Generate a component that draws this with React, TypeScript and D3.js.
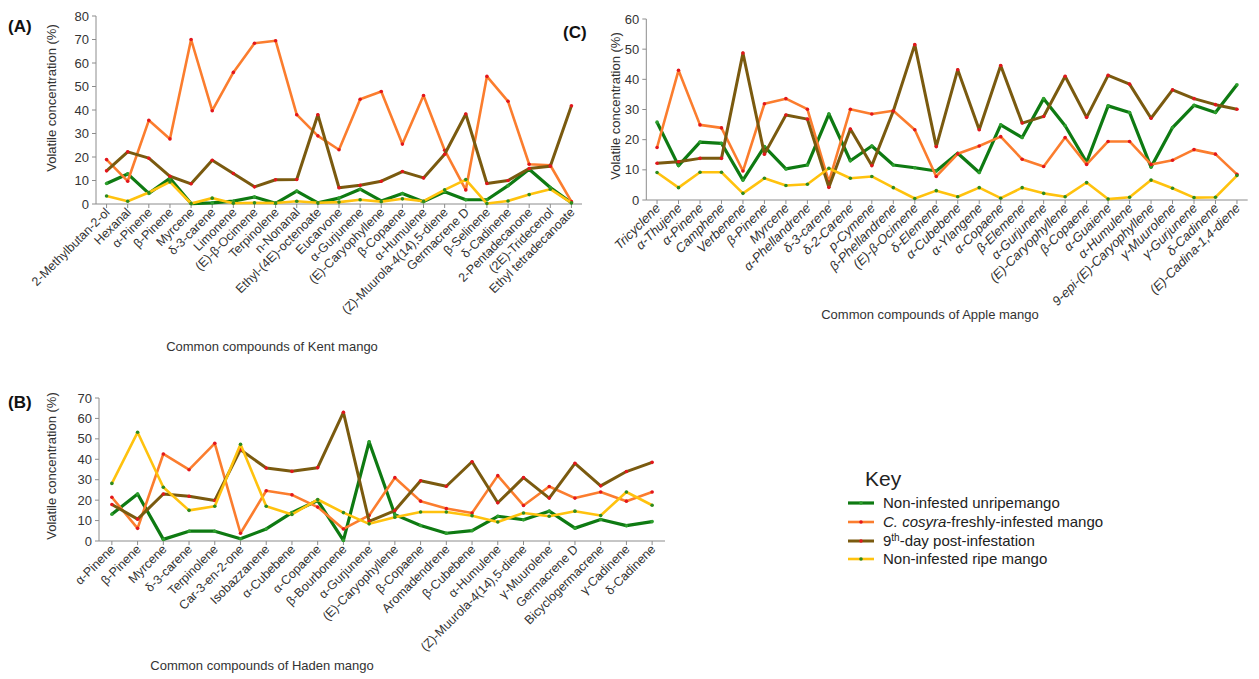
import React from 'react';
import * as d3 from 'd3';

// ---------- Data ----------
const kentCategories = ["2-Methylbutan-2-ol","Hexanal","α-Pinene","β-Pinene","Myrcene","δ-3-carene","Limonene","(E)-β-Ocimene","Terpinolene","n-Nonanal","Ethyl-(4E)-octenoate","Eucarvone","α-Gurjunene","(E)-Caryophyllene","β-Copaene","α-Humulene","(Z)-Muurola-4(14),5-diene","Germacrene D","β-Selinene","δ-Cadinene","2-Pentadecanone","(2E)-Tridecenol","Ethyl tetradecanoate"];
const kentUnripe = [8.7,12.8,4.5,10.9,0.2,0.5,1.2,3,0.3,5.5,0.5,2.5,6.3,1.3,4.5,1,5.2,1.8,1.8,7.8,14.8,7,0.5];
const kentFresh = [18.9,9.7,35.6,27.7,70,39.7,56,68.4,69.5,38,29,23.1,44.6,47.9,25.5,46.2,22.9,6,54.3,43.7,16.9,16.5,1];
const kentDay9 = [14.1,22.2,19.5,11.8,8.6,18.6,13,7.3,10.3,10.4,38,6.9,8,9.7,13.8,11.1,21.2,38.3,8.7,10,15.1,16.1,41.8];
const kentRipe = [3.4,1.2,4.9,9.4,0.2,2.5,0.3,0.5,0.4,1.2,0.5,0.8,1.8,1,2.2,1.2,6,10.4,0.2,1.3,4,6.3,0.5];

const hadenCategories = ["α-Pinene","β-Pinene","Myrcene","δ-3-carene","Terpinolene","Car-3-en-2-one","Isobazzanene","α-Cubebene","α-Copaene","β-Bourbonene","α-Gurjunene","(E)-Caryophyllene","β-Copaene","Aromadendrene","β-Cubebene","α-Humulene","(Z)-Muurola-4(14),5-diene","γ-Muurolene","Germacrene D","Bicyclogermacrene","γ-Cadinene","δ-Cadinene"];
const hadenUnripe = [13.1,23,0.8,4.8,4.8,1.1,5.9,13.9,19.8,0.3,48.5,12.9,7.6,3.8,5.1,12.1,10.4,14.6,6.3,10.5,7.5,9.5];
const hadenFresh = [21.4,6.2,42.6,34.9,47.8,3.8,24.6,22.6,16.6,5.9,12.5,31,19.5,15.9,13.7,32,17.4,26.7,21,24,19.5,24];
const hadenDay9 = [17.9,10.7,23,21.9,19.8,44.7,35.7,34.1,35.9,63,9.6,14.9,29.5,26.8,38.8,18.7,31,21,38,27,34,38.5];
const hadenRipe = [28.2,53.2,26.3,15,17,47.3,17,13,20.3,13.9,8.4,11.6,14.2,14.2,12.4,9.3,13.7,12.1,14.6,12.5,24,17.5];

const appleCategories = ["Tricyclene","α-Thujene","α-Pinene","Camphene","Verbenene","β-Pinene","Myrcene","α-Phellandrene","δ-3-carene","δ-2-Carene","p-Cymene","β-Phellandrene","(E)-β-Ocimene","δ-Elemene","α-Cubebene","α-Ylangene","α-Copaene","β-Elemene","α-Gurjunene","(E)-Caryophyllene","β-Copaene","α-Guaiene","α-Humulene","9-epi-(E)-Caryophyllene","γ-Muurolene","γ-Gurjunene","δ-Cadinene","(E)-Cadina-1,4-diene"];
const appleUnripe = [25.8,11.4,19.2,18.8,6.6,17.7,10.3,11.6,28.5,13,17.9,11.6,10.7,9.6,15.5,9.1,24.9,20.7,33.6,24.6,12.5,31.2,29,10.9,24,31.4,29,38.2];
const appleFresh = [17.4,43,24.9,23.9,9.6,31.9,33.6,30.1,6,30.1,28.5,29.6,23.3,7.8,15.3,17.9,21,13.5,11.1,20.7,11.8,19.4,19.4,11.8,13.2,16.7,15.2,8.5];
const appleDay9 = [12.2,12.7,13.8,13.8,48.7,15.2,28.2,26.8,4.2,23.5,11.4,29.5,51.5,17.7,43.2,23.3,44.6,25.5,27.7,41,27.4,41.3,38.4,27.1,36.5,33.6,31.6,30.1];
const appleRipe = [9.1,4.1,9.2,9.2,2.2,7.2,4.8,5.2,10.5,7.2,7.8,4.1,0.5,3.1,1.1,4.1,0.6,4.1,2.2,1.1,5.8,0.3,0.9,6.6,3.9,0.8,0.9,8.1];

const seriesNames = ["Non-infested unripemango","C. cosyra-freshly-infested mango","9th-day post-infestation","Non-infested ripe mango"];

// ---------- Styles ----------
const STYLES = [
  { color: "#0e7a12", dot: "#2ea02e", width: 3.2 },
  { color: "#fb7d2e", dot: "#e3161c", width: 2.6 },
  { color: "#7a5a0f", dot: "#e3161c", width: 3 },
  { color: "#ffc20e", dot: "#2e8b1e", width: 2.6 },
];

const SANS = "'Liberation Sans', Arial, sans-serif";
const NARROW = "'Liberation Sans Narrow', 'Arial Narrow', 'Liberation Sans', sans-serif";

type PanelProps = {
  cats: string[];
  data: number[][];
  xRange: [number, number];
  yMax: number;
  yRange: [number, number];
  font: string;
  italic?: boolean;
  catFont: number;
  tickFont: number;
  yTitleX: number;
  yTitleY: number;
  title: string;
  titleX: number;
  titleY: number;
  tag: string;
  tagX: number;
  tagY: number;
};

function Panel(p: PanelProps) {
  const x = d3.scalePoint<string>().domain(p.cats).range(p.xRange).padding(0.5);
  const y = d3.scaleLinear().domain([0, p.yMax]).range(p.yRange);
  const ticks = d3.range(0, p.yMax + 1, 10);
  const y0 = y(0);
  const axisX = p.xRange[0];
  const line = d3.line<number>().x((_, i) => x(p.cats[i]) as number).y(d => y(d));
  return (
    <g>
      <text x={p.tagX} y={p.tagY} fontFamily={SANS} fontWeight="bold" fontSize={17} fill="#111">{p.tag}</text>
      <line x1={axisX} x2={axisX} y1={y(p.yMax)} y2={y0} stroke="#8c8c8c" strokeWidth={1} />
      {ticks.map(t => (
        <g key={t}>
          <line x1={axisX - 4} x2={axisX} y1={y(t)} y2={y(t)} stroke="#8c8c8c" />
          <text x={axisX - 7} y={y(t) + 4.5} textAnchor="end" fontFamily={p.font} fontSize={p.tickFont} fill="#333">{t}</text>
        </g>
      ))}
      <line x1={axisX} x2={p.xRange[1]} y1={y0} y2={y0} stroke="#8c8c8c" strokeWidth={1} />
      {p.cats.map(c => (
        <g key={c}>
          <line x1={x(c)} x2={x(c)} y1={y0} y2={y0 + 4} stroke="#8c8c8c" />
          <text transform={`translate(${(x(c) as number) + 4},${y0 + 9}) rotate(-45)`} textAnchor="end"
            fontFamily={p.font} fontStyle={p.italic ? "italic" : "normal"} fontSize={p.catFont} fill="#333">{c}</text>
        </g>
      ))}
      <text transform={`translate(${p.yTitleX},${p.yTitleY}) rotate(-90)`} textAnchor="middle" fontFamily={p.font} fontSize={p.tickFont} fill="#333">Volatile concentration (%)</text>
      <text x={p.titleX} y={p.titleY} textAnchor="middle" fontFamily={p.font} fontSize={p.tickFont} fill="#333">{p.title}</text>
      {p.data.map((vals, si) => (
        <g key={si}>
          <path d={line(vals) || ""} fill="none" stroke={STYLES[si].color} strokeWidth={STYLES[si].width} strokeLinejoin="round" />
          {vals.map((v, i) => (
            <circle key={i} cx={x(p.cats[i])} cy={y(v)} r={1.8} fill={STYLES[si].dot} />
          ))}
        </g>
      ))}
    </g>
  );
}

function Legend() {
  const lx = 848, ly = [503, 522, 541, 559];
  return (
    <g fontFamily={SANS} fontSize={15} fill="#222">
      <text x={865} y={486} fontSize={21}>Key</text>
      {STYLES.map((s, i) => (
        <g key={i}>
          <line x1={lx} x2={lx + 26} y1={ly[i]} y2={ly[i]} stroke={s.color} strokeWidth={s.width} />
          <circle cx={lx + 13} cy={ly[i]} r={1.8} fill={s.dot} />
        </g>
      ))}
      <text x={883} y={ly[0] + 5}>{seriesNames[0]}</text>
      <text x={883} y={ly[1] + 5}><tspan fontStyle="italic">C. cosyra</tspan>-freshly-infested mango</text>
      <text x={883} y={ly[2] + 5}>9<tspan fontSize={10} dy={-5}>th</tspan><tspan dy={5}>-day post-infestation</tspan></text>
      <text x={883} y={ly[3] + 5}>{seriesNames[3]}</text>
    </g>
  );
}

export default function App() {
  return (
    <svg width={1259} height={679} style={{ position: 'absolute', left: 0, top: 0, background: '#fff' }}>
      <rect width={1259} height={679} fill="#fff" />
      <Panel cats={kentCategories} data={[kentUnripe, kentFresh, kentDay9, kentRipe]}
        xRange={[96, 582]} yMax={80} yRange={[204, 16]} font={SANS} catFont={12.5} tickFont={13}
        yTitleX={56} yTitleY={98} title="Common compounds of Kent mango" titleX={272} titleY={351}
        tag="(A)" tagX={8} tagY={32} />
      <Panel cats={hadenCategories} data={[hadenUnripe, hadenFresh, hadenDay9, hadenRipe]}
        xRange={[99, 665]} yMax={70} yRange={[541, 398]} font={SANS} catFont={12.5} tickFont={13}
        yTitleX={56} yTitleY={466} title="Common compounds of Haden mango" titleX={262} titleY={670}
        tag="(B)" tagX={8} tagY={408} />
      <Panel cats={appleCategories} data={[appleUnripe, appleFresh, appleDay9, appleRipe]}
        xRange={[646.3, 1247.7]} yMax={60} yRange={[200, 19]} font={NARROW} italic catFont={13} tickFont={13}
        yTitleX={620} yTitleY={106} title="Common compounds of Apple mango" titleX={930} titleY={319}
        tag="(C)" tagX={563} tagY={38} />
      <Legend />
    </svg>
  );
}
